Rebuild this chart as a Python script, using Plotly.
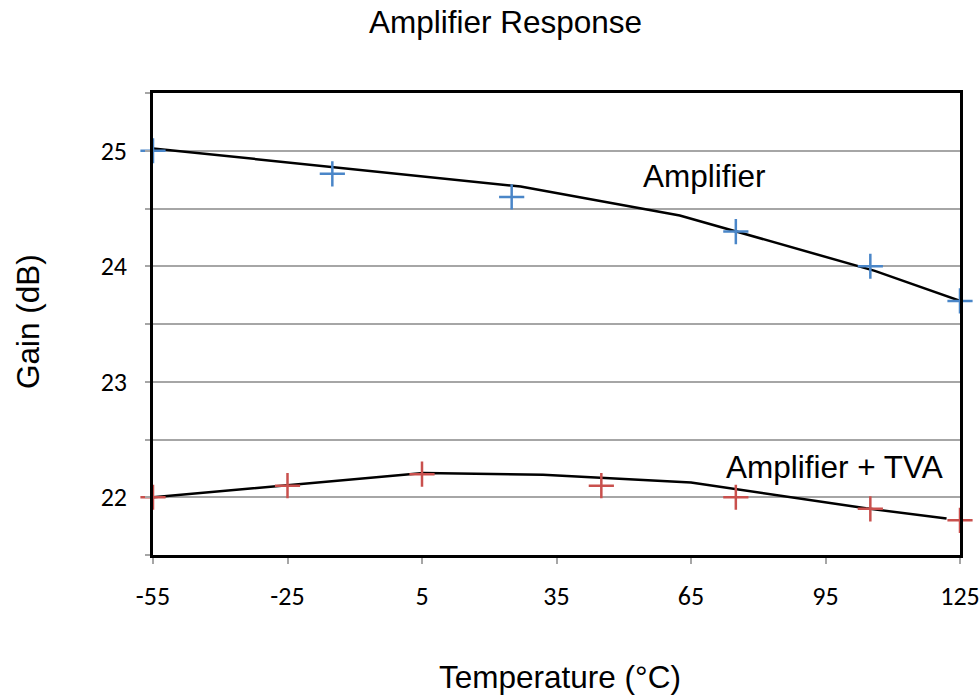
import plotly.graph_objects as go

# Measured data (markers)
temps = [-55, -15, 25, 75, 105, 125]
amp_gain = [25.0, 24.8, 24.6, 24.3, 24.0, 23.7]
tva_temps = [-55, -25, 5, 45, 75, 105, 125]
tva_gain = [22.0, 22.1, 22.2, 22.1, 22.0, 21.9, 21.8]

# Trend curves (black lines)
amp_fit_x = [-55, 27, 62.5, 106, 125]
amp_fit_y = [25.02, 24.69, 24.44, 23.96, 23.70]
tva_fit_x = [-55, 5.3, 32, 65, 104, 122]
tva_fit_y = [22.0, 22.21, 22.195, 22.127, 21.904, 21.817]

# Axis ticks
x_ticks = [-55, -25, 5, 35, 65, 95, 125]
x_ticktext = ["-55", "-25", "5", "35", "65", "95", "125"]
y_ticks = [21.5, 22, 22.5, 23, 23.5, 24, 24.5, 25, 25.5]
y_ticktext = ["", "22", "", "23", "", "24", "", "25", ""]

BLUE = "#4A86C8"
RED = "#C9504D"
TXT = "Liberation Sans, Arial, sans-serif"
TICKF = "Carlito, Open Sans, sans-serif"

fig = go.Figure()
fig.add_trace(go.Scatter(x=amp_fit_x, y=amp_fit_y, mode="lines",
                         line=dict(color="black", width=2.5), showlegend=False,
                         cliponaxis=False))
fig.add_trace(go.Scatter(x=tva_fit_x, y=tva_fit_y, mode="lines",
                         line=dict(color="black", width=2.5), showlegend=False,
                         cliponaxis=False))
fig.add_trace(go.Scatter(x=temps, y=amp_gain, mode="markers",
                         marker=dict(symbol="cross-thin", size=18,
                                     line=dict(color=BLUE, width=2.5)),
                         showlegend=False, cliponaxis=False))
fig.add_trace(go.Scatter(x=tva_temps, y=tva_gain, mode="markers",
                         marker=dict(symbol="cross-thin", size=18,
                                     line=dict(color=RED, width=2.5)),
                         showlegend=False, cliponaxis=False))

fig.update_layout(
    width=980, height=698,
    margin=dict(l=153, r=20, t=93, b=143, autoexpand=False),
    plot_bgcolor="white", paper_bgcolor="white",
    title=dict(text="Amplifier Response", x=505.5 / 980, xanchor="center",
               y=1 - 22 / 698, yanchor="middle", xref="container", yref="container",
               font=dict(family=TXT, size=31.5, color="black")),
    xaxis=dict(range=[-55, 125], tickvals=x_ticks, ticktext=x_ticktext,
               showgrid=False, zeroline=False, automargin=False,
               showline=True, linecolor="black", linewidth=2.5, mirror=True,
               ticks="outside", ticklen=6, tickwidth=2, tickcolor="#A6A6A6",
               ticklabelstandoff=10,
               tickfont=dict(family=TICKF, size=26, color="black")),
    yaxis=dict(range=[21.5, 25.5], tickvals=y_ticks, ticktext=y_ticktext,
               showgrid=True, gridcolor="#A6A6A6", gridwidth=2, zeroline=False,
               automargin=False,
               showline=True, linecolor="black", linewidth=2.5, mirror=True,
               ticks="outside", ticklen=5, tickwidth=2, tickcolor="#A6A6A6",
               ticklabelstandoff=13,
               tickfont=dict(family=TICKF, size=26, color="black")),
    annotations=[
        dict(text="Amplifier", x=67.9, y=24.78, xref="x", yref="y",
             showarrow=False, xanchor="center", yanchor="middle",
             font=dict(family=TXT, size=31.5, color="black")),
        dict(text="Amplifier + TVA", x=97.1, y=22.266, xref="x", yref="y",
             showarrow=False, xanchor="center", yanchor="middle",
             font=dict(family=TXT, size=31.5, color="black")),
        dict(text="Temperature (°C)", x=(560 - 153) / 807, y=(555 - 677) / 462,
             xref="paper", yref="paper", showarrow=False,
             xanchor="center", yanchor="middle",
             font=dict(family=TXT, size=31.5, color="black")),
        dict(text="Gain (dB)", x=(28 - 153) / 807, y=(555 - 322) / 462,
             xref="paper", yref="paper", showarrow=False, textangle=-90,
             xanchor="center", yanchor="middle",
             font=dict(family=TXT, size=31.5, color="black")),
    ],
)

fig.write_html("out.html")
